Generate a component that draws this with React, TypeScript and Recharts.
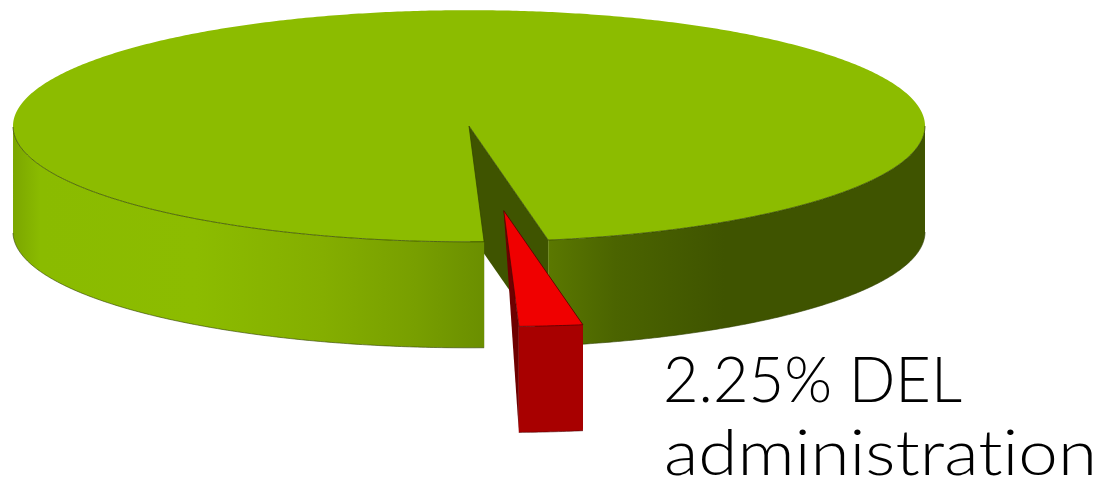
import React from "react";
import { PieChart, Pie } from "recharts";

const sliceNames = ["Other", "DEL administration"];
const sliceValues = [97.75, 2.25];
const labelLines = ["2.25% DEL", "administration"];

const data = sliceNames.map((name, i) => ({ name, value: sliceValues[i] }));

const WIDTH = 1101;
const HEIGHT = 482;
const CX = 469;
const CY = 126;
const RADIUS = 456;
const START_ANGLE = 280;
const TILT = 0.254; // squash of the disc
const DEPTH = 106;
const EXPLODE = [0, 335];

const TOP_COLORS = ["#8cbc00", "#f00000"];
const CUT_COLORS = ["#3f5400", "#6e0000"];
const WALL_FILLS = ["url(#greenWall)", "#a80000"];
const EDGE = ["#2f3f00", "#4a0000"];

const greenStops: [number, string][] = [
  [0, "#7ba600"],
  [0.03, "#8abb00"],
  [0.2, "#8cbc00"],
  [0.34, "#84ae00"],
  [0.44, "#789f00"],
  [0.52, "#6a8e00"],
  [0.58, "#5c7a00"],
  [0.66, "#4b6400"],
  [0.78, "#3f5400"],
  [1, "#3f5400"],
];

const rad = (a: number) => (a * Math.PI) / 180;

const linePath = (pts: number[][]) =>
  pts.map((p, i) => `${i ? "L" : "M"}${p[0].toFixed(2)} ${p[1].toFixed(2)}`).join(" ");
const pathOf = (pts: number[][]) => linePath(pts) + " Z";

const Slice3D = (props: any) => {
  const { cx, cy, outerRadius, startAngle, endAngle, index } = props;
  const mid = (startAngle + endAngle) / 2;
  const ox = EXPLODE[index] * Math.cos(rad(mid));
  const oy = -EXPLODE[index] * Math.sin(rad(mid)) * TILT;
  const apex = [cx + ox, cy + oy];
  const rim = (a: number) => [
    cx + ox + outerRadius * Math.cos(rad(a)),
    cy + oy - outerRadius * Math.sin(rad(a)) * TILT,
  ];
  const down = (p: number[]) => [p[0], p[1] + DEPTH];

  // arc sampled along the sector the library gave us
  const arc: number[] = [];
  for (let a = startAngle; a < endAngle; a += 0.5) arc.push(a);
  arc.push(endAngle);

  // the front of the rim is whatever part lies below the ellipse centre
  const runs: number[][] = [];
  let run: number[] = [];
  arc.forEach((a) => {
    if (Math.sin(rad(a)) <= 0) run.push(a);
    else if (run.length) {
      runs.push(run);
      run = [];
    }
  });
  if (run.length) runs.push(run);

  const topPts = [apex, ...arc.map(rim)];
  // the exploded slice is drawn in the source with a pointed foot on its cut face
  const cutWall = (a: number) =>
    index === 0
      ? [apex, rim(a), down(rim(a)), down(apex)]
      : [apex, rim(a), down(rim(a))];

  const frontEdge =
    runs.length > 1
      ? linePath([...runs[runs.length - 1].map(rim), apex, ...runs[0].map(rim)])
      : pathOf(topPts);

  return (
    <g>
      {index === 0 && (
        <defs>
          <linearGradient
            id="greenWall"
            gradientUnits="userSpaceOnUse"
            x1={cx - outerRadius}
            x2={cx + outerRadius}
            y1={0}
            y2={0}
          >
            {greenStops.map(([o, c]) => (
              <stop key={o} offset={o} stopColor={c} />
            ))}
          </linearGradient>
        </defs>
      )}
      <path d={pathOf(cutWall(endAngle))} fill={CUT_COLORS[index]} />
      <path d={pathOf(cutWall(startAngle))} fill={CUT_COLORS[index]} />
      {runs.map((r, i) => {
        const upper = r.map(rim);
        const lower = r.map(rim).map(down).reverse();
        return (
          <g key={i}>
            <path d={pathOf([...upper, ...lower])} fill={WALL_FILLS[index]} />
            <path d={linePath(lower)} fill="none" stroke={EDGE[index]} strokeWidth={0.6} />
          </g>
        );
      })}
      <path d={pathOf(topPts)} fill={TOP_COLORS[index]} />
      <path d={frontEdge} fill="none" stroke={EDGE[index]} strokeWidth={0.7} />
    </g>
  );
};

const SliceLabel = (props: any) => {
  if (props.index !== 1) return null;
  const textStyle = { fontVariantLigatures: "none" };
  return (
    <g fontFamily="Lato" fontWeight={300} fontSize={64} fill="#000000">
      <text x={663} y={402} textLength={299} lengthAdjust="spacingAndGlyphs" style={textStyle}>
        {labelLines[0]}
      </text>
      <text x={664} y={475} textLength={433} lengthAdjust="spacingAndGlyphs" style={textStyle}>
        {labelLines[1]}
      </text>
    </g>
  );
};

export default function App() {
  return (
    <div style={{ position: "absolute", left: 0, top: 0 }}>
      <PieChart width={WIDTH} height={HEIGHT} margin={{ top: 0, right: 0, bottom: 0, left: 0 }}>
        <Pie
          data={data}
          dataKey="value"
          nameKey="name"
          cx={CX}
          cy={CY}
          innerRadius={0}
          outerRadius={RADIUS}
          startAngle={START_ANGLE}
          endAngle={START_ANGLE + 360}
          shape={Slice3D}
          label={SliceLabel}
          labelLine={false}
          isAnimationActive={false}
        />
      </PieChart>
    </div>
  );
}
